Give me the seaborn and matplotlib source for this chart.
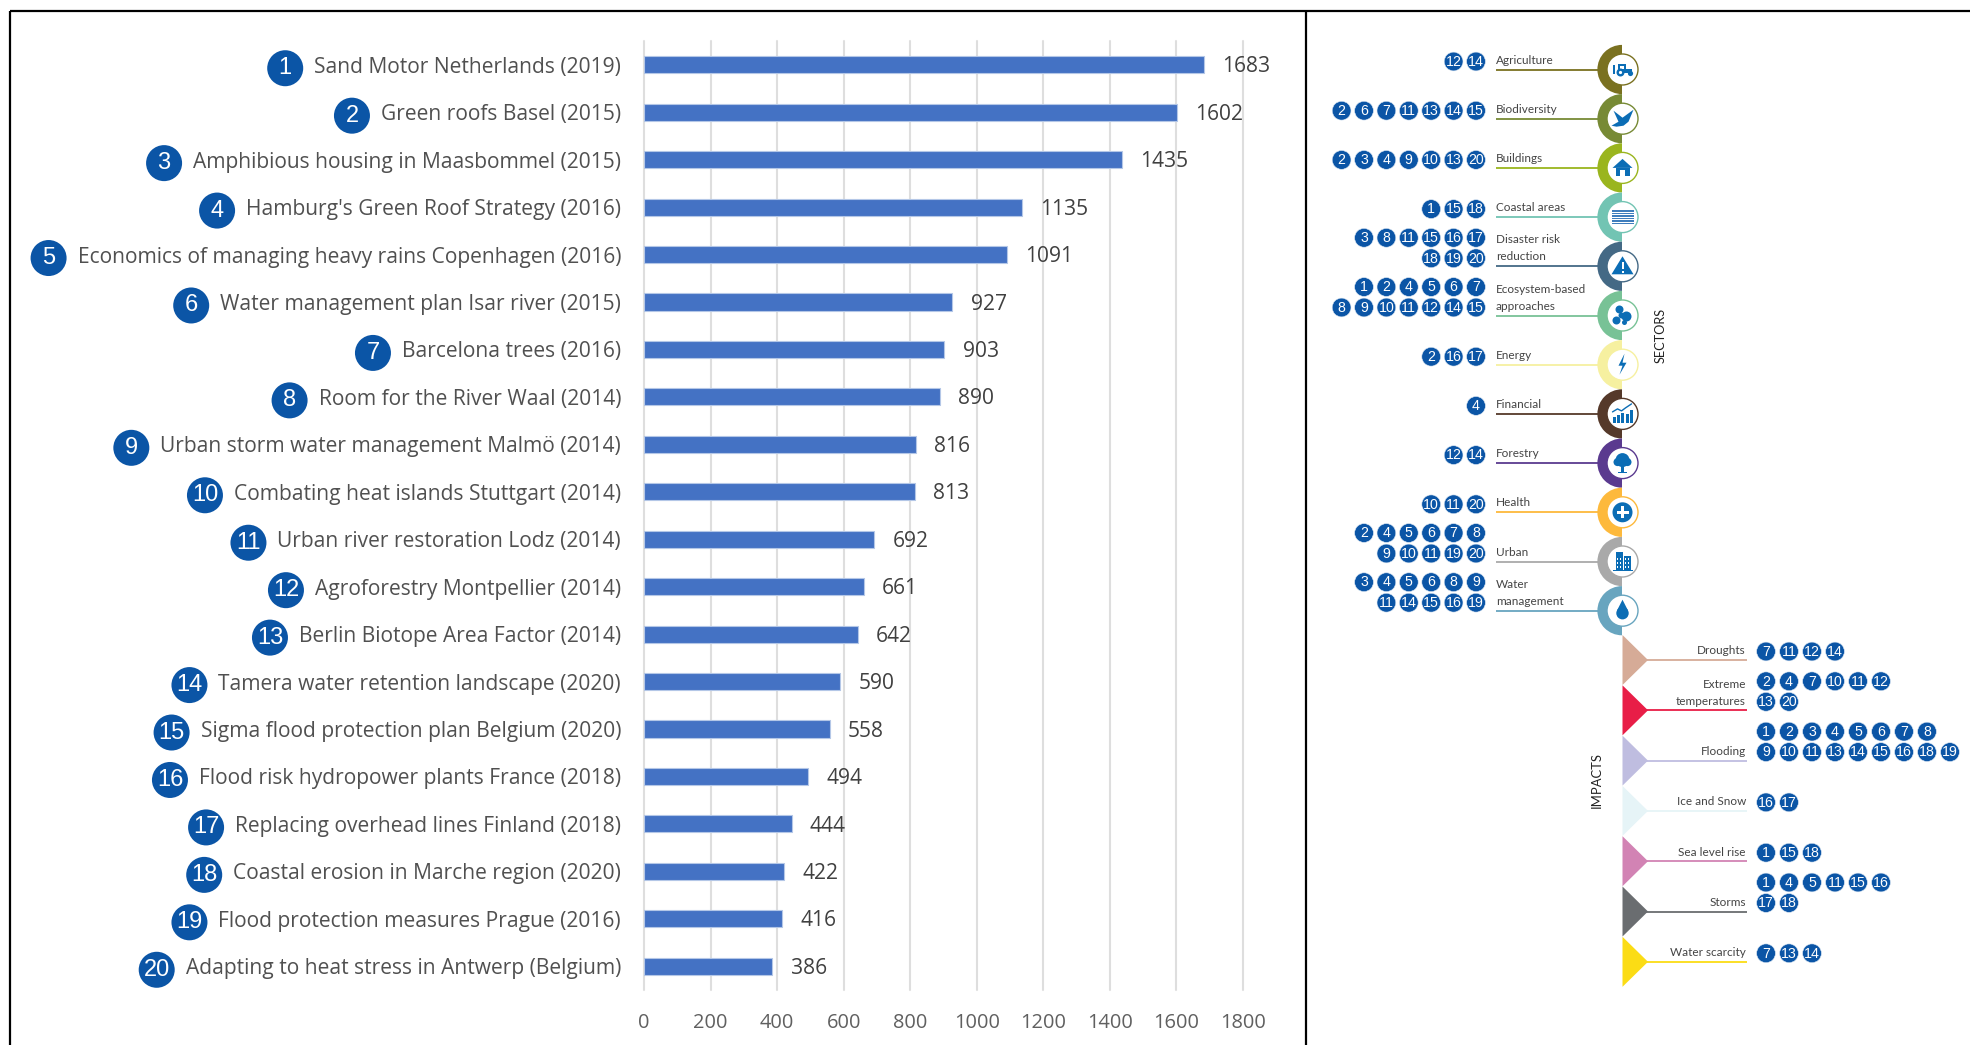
import matplotlib
matplotlib.use("Agg")
import matplotlib.pyplot as plt
from matplotlib.patches import Circle, Wedge, Polygon, Rectangle
import seaborn as sns
import pandas as pd

case_names = [
    "Sand Motor Netherlands (2019)", "Green roofs Basel (2015)",
    "Amphibious housing in Maasbommel (2015)", "Hamburg's Green Roof Strategy (2016)",
    "Economics of managing heavy rains Copenhagen (2016)", "Water management plan Isar river (2015)",
    "Barcelona trees (2016)", "Room for the River Waal (2014)",
    "Urban storm water management Malmö (2014)", "Combating heat islands Stuttgart (2014)",
    "Urban river restoration Lodz (2014)", "Agroforestry Montpellier (2014)",
    "Berlin Biotope Area Factor (2014)", "Tamera water retention landscape (2020)",
    "Sigma flood protection plan Belgium (2020)", "Flood risk hydropower plants France (2018)",
    "Replacing overhead lines Finland (2018)", "Coastal erosion in Marche region (2020)",
    "Flood protection measures Prague (2016)", "Adapting to heat stress in Antwerp (Belgium)",
]
case_values = [1683, 1602, 1435, 1135, 1091, 927, 903, 890, 816, 813,
               692, 661, 642, 590, 558, 494, 444, 422, 416, 386]
x_ticks = [0, 200, 400, 600, 800, 1000, 1200, 1400, 1600, 1800]

sector_names = ["Agriculture", "Biodiversity", "Buildings", "Coastal areas",
                "Disaster risk\nreduction", "Ecosystem-based\napproaches", "Energy",
                "Financial", "Forestry", "Health", "Urban", "Water\nmanagement"]
sector_cases = [
    [[12, 14]], [[2, 6, 7, 11, 13, 14, 15]], [[2, 3, 4, 9, 10, 13, 20]], [[1, 15, 18]],
    [[3, 8, 11, 15, 16, 17], [18, 19, 20]],
    [[1, 2, 4, 5, 6, 7], [8, 9, 10, 11, 12, 14, 15]],
    [[2, 16, 17]], [[4]], [[12, 14]], [[10, 11, 20]],
    [[2, 4, 5, 6, 7, 8], [9, 10, 11, 19, 20]],
    [[3, 4, 5, 6, 8, 9], [11, 14, 15, 16, 19]],
]
sector_colors = ["#7A7120", "#778A35", "#9AB51E", "#72C4B3", "#446985", "#78C296",
                 "#F6F0A0", "#55392A", "#5A3A8F", "#FDB93C", "#A9A9A9", "#68A5BF"]

impact_names = ["Droughts", "Extreme\ntemperatures", "Flooding", "Ice and Snow",
                "Sea level rise", "Storms", "Water scarcity"]
impact_cases = [
    [[7, 11, 12, 14]],
    [[2, 4, 7, 10, 11, 12], [13, 20]],
    [[1, 2, 3, 4, 5, 6, 7, 8], [9, 10, 11, 13, 14, 15, 16, 18, 19]],
    [[16, 17]], [[1, 15, 18]],
    [[1, 4, 5, 11, 15, 16], [17, 18]],
    [[7, 13, 14]],
]
impact_colors = ["#D6AB97", "#E81E47", "#BFBDE0", "#E6F4F7", "#D283B4", "#6A6D70", "#FBDC15"]

W, H = 1970, 1045
BADGE = "#0B55A6"
ICON = "#0B6DB5"

sns.set_theme(style="white")
plt.rcParams["font.family"] = ["Open Sans", "DejaVu Sans"]

fig = plt.figure(figsize=(W / 100, H / 100), dpi=100, facecolor="white")
ax = fig.add_axes([644 / W, 1 - 990 / H, 599 / W, 949 / H])
df = pd.DataFrame({"case": case_names, "views": case_values})
sns.barplot(data=df, x="views", y="case", color="#4472C4", saturation=1, width=0.36,
            edgecolor="#B4C7E7", linewidth=0.8, ax=ax)
ax.set_xlim(0, 1800)
ax.set_ylim(19.5, -0.5)
ax.set_xlabel("")
ax.set_ylabel("")
ax.set_xticks(x_ticks)
ax.grid(axis="x", color="#DEDEDE", linewidth=1.5)
ax.grid(axis="y", visible=False)
ax.set_axisbelow(True)
for gl in ax.get_xgridlines():
    gl.set_clip_on(False)
sns.despine(ax=ax, left=True, bottom=True)
ax.tick_params(axis="y", length=0, pad=16.5, labelsize=15.1, labelcolor="#505050")
ax.tick_params(axis="x", length=0, pad=16.5, labelsize=14.4, labelcolor="#606060")
for lab in ax.get_yticklabels():
    lab.set_verticalalignment("center_baseline")
for ann in ax.bar_label(ax.containers[0], padding=13, fontsize=15.1, color="#404040"):
    ann.xyann = (ann.xyann[0], -1.5)

# overlay in figure pixels for the badges and the infographic
ov = fig.add_axes([0, 0, 1, 1], facecolor="none")
ov.set_xlim(0, W)
ov.set_ylim(H, 0)
ov.axis("off")

for x0, y0, x1, y1 in [(10, 11, W, 11), (10, 11, 10, H), (1306, 11, 1306, H)]:
    ov.plot([x0, x1], [y0, y1], color="black", lw=1.6, solid_capstyle="butt")

fig.canvas.draw()
ticklabels = ax.get_yticklabels()
for i, lab in enumerate(ticklabels):
    ext = lab.get_window_extent()
    yy = H - (ext.y0 + ext.y1) / 2 + 1
    xx = ext.x0 - 29
    ov.add_patch(Circle((xx, yy), 18, color=BADGE, lw=0))
    ov.text(xx, yy, str(i + 1), color="white", fontsize=17, ha="center", va="center",
            family=["Liberation Sans"], fontweight="normal")


def badge(x, y, n):
    ov.add_patch(Circle((x, y), 9.4, facecolor=BADGE, edgecolor="#DDE8F4", lw=0.4, zorder=4))
    ov.text(x, y + 0.3, str(n), color="white", fontsize=10.2, ha="center", va="center",
            family=["Liberation Sans"], zorder=5)


def poly(pts, cx, cy, color=ICON):
    ov.add_patch(Polygon([(cx + a, cy + b) for a, b in pts], closed=True, color=color, lw=0, zorder=6))


def rect(cx, cy, x, y, w, h, color=ICON):
    ov.add_patch(Rectangle((cx + x, cy + y), w, h, color=color, lw=0, zorder=6))


def circ(cx, cy, x, y, r, color=ICON):
    ov.add_patch(Circle((cx + x, cy + y), r, color=color, lw=0, zorder=6))


def draw_icon(i, c, y):
    if i == 0:  # tractor
        rect(c, y, -5, -6, 8, 6); rect(c, y, -5, -1, 14, 4); rect(c, y, -10, -5, 2, 9)
        rect(c, y, -3, -4, 4, 3, "white")
        circ(c, y, -2, 3, 4); circ(c, y, -2, 3, 1.6, "white"); circ(c, y, 8, 4, 2.6)
    elif i == 1:  # bird
        poly([(-11, 7), (-4, 3), (-9, -8), (0, -1), (11, -9), (6, 3), (1, 7), (-6, 8)], c, y)
    elif i == 2:  # house
        poly([(-10, 0), (0, -9), (10, 0)], c, y)
        rect(c, y, -7, 0, 14, 8); rect(c, y, -2.5, 2, 5, 6, "white")
    elif i == 3:  # water stripes
        for k in range(6):
            rect(c, y, -11, -7 + k * 2.5, 22, 1.5, "#3F7EBD")
    elif i == 4:  # warning
        poly([(0, -10), (11, 8), (-11, 8)], c, y)
        rect(c, y, -1, -4, 2, 7, "white"); rect(c, y, -1, 4.2, 2, 2, "white")
    elif i == 5:  # trees and rocks
        circ(c, y, -3, -6, 4); circ(c, y, 4, 1, 5); circ(c, y, -6, 5, 4)
        circ(c, y, -1, 0, 3); circ(c, y, 2, 7, 2.5)
    elif i == 6:  # lightning
        poly([(2, -11), (-4, 1), (0, 1), (-3, 10), (4, -2), (0, -2)], c, y)
    elif i == 7:  # chart
        for k, h in enumerate([6, 8, 10, 9, 13]):
            rect(c, y, -10 + k * 4.4, 9 - h, 3, h)
        ov.plot([c - 10, c - 5, c - 1, c + 3, c + 9], [y - 2, y - 5, y - 3, y - 6, y - 10],
                color=ICON, lw=1, zorder=6)
    elif i == 8:  # tree
        circ(c, y, 0, -3, 7); circ(c, y, -5, -1, 4); circ(c, y, 5, -1, 4)
        rect(c, y, -1.2, 0, 2.4, 9); rect(c, y, -4.5, 8.5, 9, 1.5)
    elif i == 9:  # health
        circ(c, y, 0, 0, 10)
        rect(c, y, -6, -1.3, 12, 2.6, "white"); rect(c, y, -1.3, -6, 2.6, 12, "white")
    elif i == 10:  # buildings
        rect(c, y, -7, -10, 7, 18); rect(c, y, 1, -6, 7, 14); rect(c, y, -10, 8.5, 20, 1.4)
        for a in (-5.5, -2.5, 2.5, 5):
            for b in (-4, 0, 4):
                rect(c, y, a, b, 1.3, 2, "white")
    elif i == 11:  # drop
        poly([(0, -11), (-5.6, 0), (5.6, 0)], c, y)
        circ(c, y, 0, 2.5, 6.2)


SEC_C = 1622
SEC_TOP = 69.5
SEC_STEP = 49.2
for i, name in enumerate(sector_names):
    y = SEC_TOP + i * SEC_STEP
    col = sector_colors[i]
    ov.add_patch(Wedge((SEC_C, y), 24.6, 90, 270, color=col, lw=0, zorder=2))
    ov.plot([1496, SEC_C - 10], [y, y], color=col, lw=1.3, zorder=1.5,
            solid_capstyle="butt")
    ov.add_patch(Circle((SEC_C + 0.5, y), 15.5, facecolor="white", edgecolor=col, lw=1.0, zorder=3))
    draw_icon(i, SEC_C + 0.5, y)
    ov.text(1496, y - 4, name, fontsize=8.5, color="#444444", family=["Lato"],
            ha="left", va="bottom", linespacing=1.65, zorder=4)
    rows = sector_cases[i]
    for r, row in enumerate(rows):
        yy = y - 8 - 20.5 * (len(rows) - 1 - r)
        for k, n in enumerate(reversed(row)):
            badge(1476 - k * 22.4, yy, n)

IMP_X = 1622.5
IMP_TOP = 660
IMP_STEP = 50.3
for i, name in enumerate(impact_names):
    y = IMP_TOP + i * IMP_STEP
    col = impact_colors[i]
    ov.add_patch(Polygon([(IMP_X, y - 25), (IMP_X + 25.5, y), (IMP_X, y + 25)], closed=True,
                         color=col, lw=0, zorder=2))
    ov.plot([IMP_X + 20, 1747], [y, y], color=col, lw=1.3, zorder=1.5, solid_capstyle="butt")
    ov.text(1746, y - 3.5, name, fontsize=8.5, color="#444444", family=["Lato"],
            ha="right", va="bottom", linespacing=1.65, zorder=4)
    rows = impact_cases[i]
    for r, row in enumerate(rows):
        yy = y - 8.5 - 20.5 * (len(rows) - 1 - r)
        for k, n in enumerate(row):
            badge(1766 + k * 23, yy, n)

ov.text(1661, 335, "SECTORS", rotation=90, fontsize=9.2, color="#222222", family=["Lato"],
        ha="center", va="center")
ov.text(1597, 780, "IMPACTS", rotation=90, fontsize=9.4, color="#222222", family=["Lato"],
        ha="center", va="center")

fig.savefig("out.png", dpi=100, facecolor="white")
